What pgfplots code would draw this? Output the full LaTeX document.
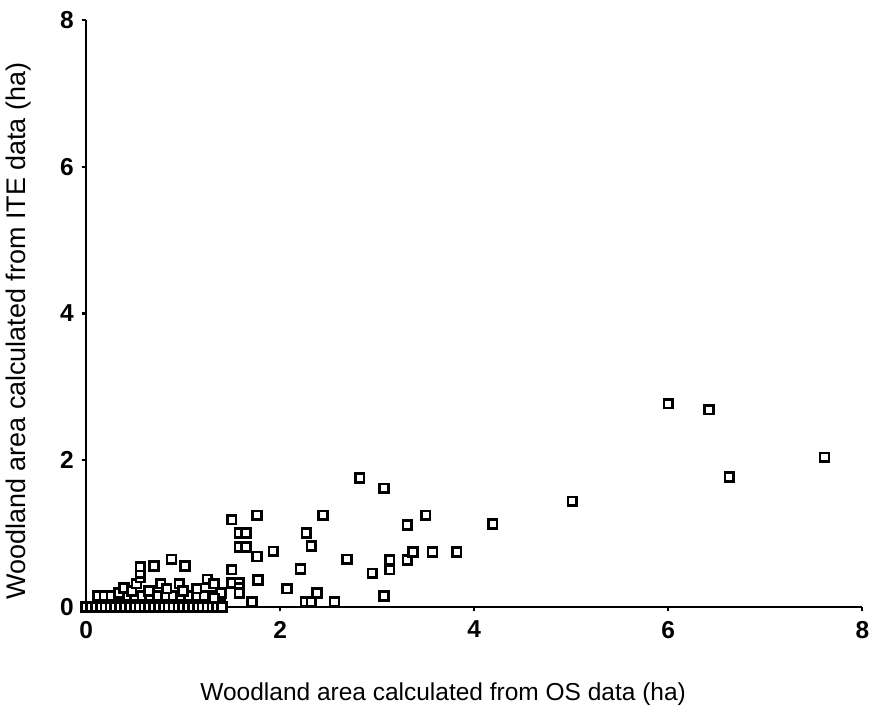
\documentclass[border=0pt]{standalone}
\usepackage{pgfplots}
\pgfplotsset{compat=1.18}
\usepackage{fontspec}
\setmainfont{Liberation Sans}
\begin{document}
\begin{tikzpicture}
\begin{axis}[
  name=ax,
  scale only axis,
  width=15.6cm, height=11.8cm,
  xmin=0, xmax=8, ymin=0, ymax=8,
  axis lines=left,
  axis line style={-, line width=1.4pt},
  xtick={0,2,4,6,8}, ytick={0,2,4,6,8},
  tick style={line width=1.2pt, black},
  tick align=outside,
  major tick length=2.5pt,
  /pgf/number format/assume math mode=true,
  ticklabel style={font=\fontsize{14}{16}\selectfont\bfseries},
  xticklabel style={yshift=-2pt},
  yticklabel style={xshift=-1pt},
  xlabel={Woodland area calculated from OS data (ha)},
  ylabel={Woodland area calculated from ITE data (ha)},
  xlabel style={font=\fontsize{14}{16}\selectfont, at={(axis description cs:0.46,0)}, anchor=north, yshift=-40pt},
  ylabel style={font=\fontsize{15.4}{17}\selectfont, at={(axis description cs:0,0.47)}, anchor=south, yshift=28pt},
  clip=false,
]
\addplot[only marks, mark=square*, mark size=2.5pt, line width=1.5pt, draw=black, fill=white] coordinates {
(0,0) (0.05,0) (0.1,0) (0.15,0) (0.2,0) (0.25,0) (0.3,0) (0.35,0) (0.4,0) (0.45,0)
(0.5,0) (0.55,0) (0.6,0) (0.65,0) (0.7,0) (0.75,0) (0.8,0) (0.85,0) (0.9,0) (0.95,0)
(1.0,0) (1.05,0) (1.1,0) (1.15,0) (1.2,0) (1.25,0) (1.3,0) (1.35,0) (1.4,0)
(0.12,0.15) (0.19,0.15) (0.26,0.15) (0.34,0.15) (0.42,0.15) (0.5,0.15) (0.58,0.15)
(0.66,0.15) (0.74,0.15) (0.82,0.15) (0.9,0.15) (0.98,0.15) (1.06,0.15) (1.14,0.15)
(1.22,0.15) (1.3,0.15) (1.38,0.15)
(0.34,0.19) (0.39,0.26) (0.47,0.22) (0.52,0.32) (0.56,0.40) (0.56,0.46) (0.56,0.55)
(0.65,0.22) (0.70,0.56) (0.77,0.32) (0.83,0.25) (0.88,0.65) (0.96,0.32) (1.0,0.22)
(1.02,0.56) (1.14,0.25) (1.25,0.38) (1.32,0.32) (1.39,0.19) (1.32,0.12)
(1.50,1.19) (1.76,1.25) (1.58,1.01) (1.65,1.01) (1.58,0.82) (1.65,0.82)
(1.76,0.69) (1.93,0.76) (1.50,0.51) (1.50,0.33) (1.58,0.33) (1.58,0.26) (1.58,0.19)
(1.77,0.37) (1.71,0.07) (2.07,0.25) (2.21,0.52) (2.27,1.01) (2.32,0.83) (2.44,1.25)
(2.26,0.07) (2.32,0.07) (2.38,0.19) (2.56,0.07) (2.69,0.65) (2.82,1.76) (3.07,1.62)
(2.95,0.46) (3.07,0.15) (3.13,0.64) (3.13,0.51) (3.31,0.64) (3.31,1.12) (3.37,0.75)
(3.50,1.25) (3.57,0.75) (3.82,0.75) (4.19,1.13) (5.01,1.44) (6.00,2.77) (6.42,2.69)
(6.63,1.77) (7.61,2.04)
};
\end{axis}
\path[use as bounding box] ([shift={(-1.7cm,-2.06cm)}]ax.south west) rectangle ++(17.5cm,14.26cm);
\end{tikzpicture}
\end{document}
